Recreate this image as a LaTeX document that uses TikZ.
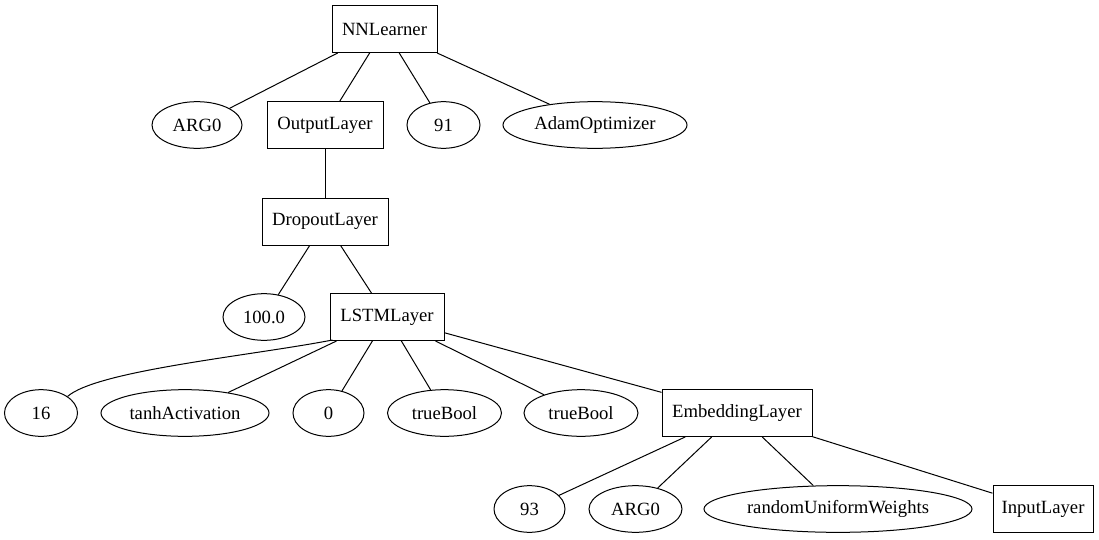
\documentclass[tikz,border=0pt]{standalone}
\usepackage{fontspec}
\setmainfont{LiberationSerif}[Extension=.ttf, UprightFont=*-Regular, BoldFont=*-Bold]
\usetikzlibrary{shapes.geometric}
\tikzset{
  bx/.style={draw, rectangle, inner sep=0pt, minimum height=35.25pt, minimum width=#1},
  el/.style={draw, ellipse, inner sep=0pt, minimum height=35pt, minimum width=#1},
  edge/.style={draw, line width=0.75pt},
}
\begin{document}
\begin{tikzpicture}[x=0.75pt, y=-0.75pt, line width=0.75pt, font=\rmfamily\fontsize{14pt}{16pt}\selectfont]
\useasboundingbox (0,0) rectangle (1099,539);
% row 1
\node[bx=78.75pt] (nn) at (384.5,29) {NNLearner};
% row 2
\node[el=67.5pt] (arga) at (197,125) {ARG0};
\node[bx=87pt] (out) at (325,125) {OutputLayer};
\node[el=54.75pt] (n91) at (443.5,125) {91};
\node[el=138pt] (adam) at (595,125) {AdamOptimizer};
% row 3
\node[bx=94.5pt] (drop) at (325,221.5) {DropoutLayer};
% row 4
\node[el=61.5pt] (n100) at (264,317) {100.0};
\node[bx=85.5pt] (lstm) at (387,317) {LSTMLayer};
% row 5
\node[el=54.75pt] (n16) at (41,413) {16};
\node[el=126pt] (tanh) at (185,413) {tanhActivation};
\node[el=53.25pt] (n0) at (328.5,413) {0};
\node[el=85.5pt] (tba) at (444.5,413) {trueBool};
\node[el=85.5pt] (tbb) at (581,413) {trueBool};
\node[bx=112.5pt] (emb) at (737,413) {EmbeddingLayer};
% row 6
\node[el=53.25pt] (n93) at (529.5,509) {93};
\node[el=69.75pt] (argb) at (635.5,509) {ARG0};
\node[el=201pt] (ruw) at (838,509) {randomUniformWeights};
\node[bx=75pt] (inp) at (1043,509) {InputLayer};
% edges
\draw[edge] (nn) -- (arga);
\draw[edge] (nn) -- (out);
\draw[edge] (nn) -- (n91);
\draw[edge] (nn) -- (adam);
\draw[edge] (out) -- (drop);
\draw[edge] (drop) -- (n100);
\draw[edge] (drop) -- (lstm);
\draw[edge] (lstm.south west) ++(3,-1) .. controls +(-83,16) and +(30,-26) .. (n16.32);
\draw[edge] (lstm) -- (tanh);
\draw[edge] (lstm) -- (n0);
\draw[edge] (lstm) -- (tba);
\draw[edge] (lstm) -- (tbb);
\draw[edge] (lstm) -- (emb);
\draw[edge] (emb) -- (n93);
\draw[edge] (emb) -- (argb);
\draw[edge] (emb) -- (ruw);
\draw[edge] (emb) -- (inp);
\end{tikzpicture}
\end{document}
